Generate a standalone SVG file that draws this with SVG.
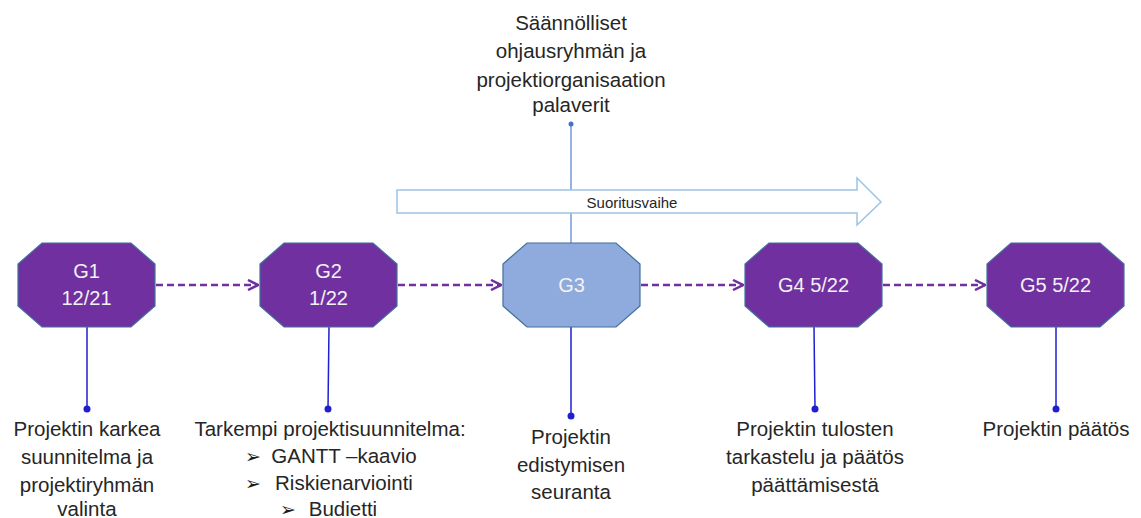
<svg xmlns="http://www.w3.org/2000/svg" width="1141" height="518" viewBox="0 0 1141 518">
  <style>
    .gate { fill: #7030A0; stroke: #41719C; stroke-width: 1.2; }
    .gate-now { fill: #8FAADC; stroke: #41719C; stroke-width: 1.2; }
    .gtxt { font-family: "Liberation Sans", Arial, sans-serif; font-size: 20px; fill: #F2F2F2; text-anchor: middle; }
    .lbl { font-family: "Liberation Sans", Arial, sans-serif; font-size: 20.5px; fill: #262626; text-anchor: middle; }
    .bul { font-family: "DejaVu Sans", sans-serif; font-size: 19px; fill: #1A1A1A; }
    .small { font-family: "Liberation Sans", Arial, sans-serif; font-size: 15px; fill: #262626; text-anchor: middle; }
    .flow { stroke: #7030A0; stroke-width: 2.5; stroke-dasharray: 7 4; fill: none; marker-end: url(#chev); }
    .stem { stroke: #1F1FD0; stroke-width: 1.5; }
    .dot { fill: #1F1FD0; }
  </style>
  <defs>
    <marker id="chev" viewBox="0 0 10 10" refX="9" refY="5" markerWidth="5" markerHeight="5" orient="auto" markerUnits="strokeWidth">
      <path d="M1,1 L9,5 L1,9" fill="none" stroke="#7030A0" stroke-width="2"/>
    </marker>
    <polygon id="oct" points="24,0 113,0 137,21 137,63 113,84 24,84 0,63 0,21"/>
  </defs>

  <!-- meeting stem and phase arrow -->
  <g id="meetings">
    <line x1="571" y1="124" x2="571" y2="243" stroke="#5B8BD0" stroke-width="1.3"/>
    <circle cx="571" cy="124" r="2.5" fill="#4472C4"/>
    <text class="lbl" font-size="21.5" x="571" y="30">Säännölliset</text>
    <text class="lbl" font-size="21.5" x="571" y="58">ohjausryhmän ja</text>
    <text class="lbl" font-size="21.5" x="571" y="87">projektiorganisaation</text>
    <text class="lbl" font-size="21.5" x="571" y="112">palaverit</text>
  </g>
  <g id="phase">
    <polygon points="397,190 857,190 857,178 881,202 857,225 857,213 397,213" fill="#FFFFFF" stroke="#9DC3E6" stroke-width="1.5"/>
    <text class="small" x="632" y="208">Suoritusvaihe</text>
  </g>

  <!-- flow connectors and stems -->
  <g id="connectors">
    <line class="flow" x1="156" y1="285" x2="258" y2="285"/>
    <line class="flow" x1="398" y1="285" x2="501" y2="285"/>
    <line class="flow" x1="641" y1="285" x2="743" y2="285"/>
    <line class="flow" x1="883" y1="285" x2="985" y2="285"/>
    <line class="stem" x1="87" y1="327" x2="87" y2="409"/>
    <circle class="dot" cx="87" cy="409" r="3.5"/>
    <line class="stem" x1="329" y1="327" x2="328" y2="409"/>
    <circle class="dot" cx="328" cy="409" r="3.5"/>
    <line class="stem" x1="571" y1="327" x2="571" y2="416"/>
    <circle class="dot" cx="571" cy="416" r="3.5"/>
    <line class="stem" x1="814" y1="327" x2="815" y2="409"/>
    <circle class="dot" cx="815" cy="409" r="3.5"/>
    <line class="stem" x1="1056" y1="327" x2="1056" y2="409"/>
    <circle class="dot" cx="1056" cy="409" r="3.5"/>
  </g>

  <g id="g1">
    <use href="#oct" class="gate" transform="translate(18,243)"/>
    <text class="gtxt" x="86.5" y="278">G1</text>
    <text class="gtxt" x="86.5" y="305">12/21</text>
    <text class="lbl" x="87" y="436">Projektin karkea</text>
    <text class="lbl" x="87" y="464">suunnitelma ja</text>
    <text class="lbl" x="87" y="492">projektiryhmän</text>
    <text class="lbl" x="87" y="516">valinta</text>
  </g>
  <g id="g2">
    <use href="#oct" class="gate" transform="translate(260,243)"/>
    <text class="gtxt" x="328.5" y="278">G2</text>
    <text class="gtxt" x="328.5" y="305">1/22</text>
    <text class="lbl" x="330" y="436">Tarkempi projektisuunnitelma:</text>
    <text class="bul" x="245" y="463">➢</text>
    <text class="lbl" x="344" y="463">GANTT –kaavio</text>
    <text class="bul" x="245" y="490">➢</text>
    <text class="lbl" x="344" y="490">Riskienarviointi</text>
    <text class="bul" x="280" y="516">➢</text>
    <text class="lbl" x="343" y="516">Budietti</text>
  </g>
  <g id="g3">
    <use href="#oct" class="gate-now" transform="translate(503,243)"/>
    <text class="gtxt" x="571.5" y="292">G3</text>
    <text class="lbl" x="571" y="444">Projektin</text>
    <text class="lbl" x="571" y="472">edistymisen</text>
    <text class="lbl" x="571" y="499">seuranta</text>
  </g>
  <g id="g4">
    <use href="#oct" class="gate" transform="translate(745,243)"/>
    <text class="gtxt" x="813.5" y="292">G4 5/22</text>
    <text class="lbl" x="815" y="436">Projektin tulosten</text>
    <text class="lbl" x="815" y="464">tarkastelu ja päätös</text>
    <text class="lbl" x="815" y="492">päättämisestä</text>
  </g>
  <g id="g5">
    <use href="#oct" class="gate" transform="translate(987,243)"/>
    <text class="gtxt" x="1055.5" y="292">G5 5/22</text>
    <text class="lbl" x="1056" y="436">Projektin päätös</text>
  </g>
</svg>
